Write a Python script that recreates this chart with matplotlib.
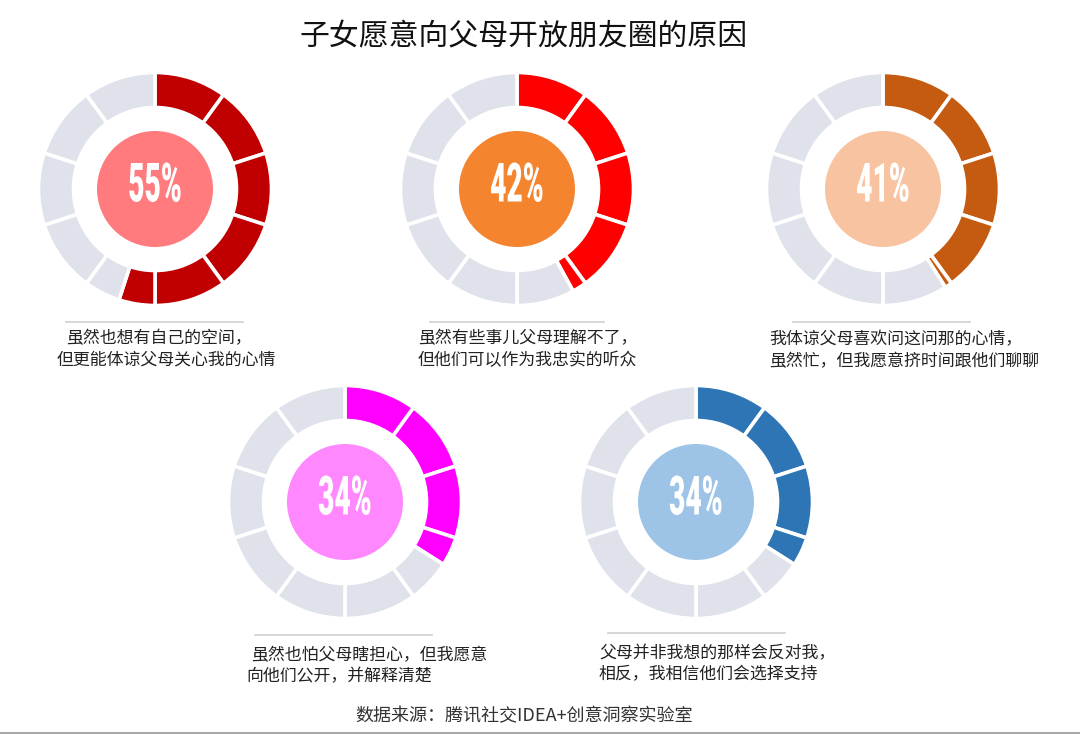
import matplotlib
matplotlib.use("Agg")
import matplotlib.pyplot as plt
from matplotlib.patches import Circle
from matplotlib.patheffects import AbstractPathEffect
from matplotlib.transforms import Affine2D

plt.rcParams['font.family'] = ['Noto Sans CJK SC', 'DejaVu Sans']

# ---- data ----
title = "子女愿意向父母开放朋友圈的原因"
source = "数据来源：腾讯社交IDEA+创意洞察实验室"
values = [55, 42, 41, 34, 34]
labels = ["55%", "42%", "41%", "34%", "34%"]
captions = [
    ["虽然也想有自己的空间，", "但更能体谅父母关心我的心情"],
    ["虽然有些事儿父母理解不了，", "但他们可以作为我忠实的听众"],
    ["我体谅父母喜欢问这问那的心情，", "虽然忙，但我愿意挤时间跟他们聊聊"],
    ["虽然也怕父母瞎担心，但我愿意", "向他们公开，并解释清楚"],
    ["父母并非我想的那样会反对我，", "相反，我相信他们会选择支持"],
]
n_segments = 10

# ---- style / layout ----
ring_colors = ["#C00000", "#FF0000", "#C55A11", "#FF00FF", "#2E75B6"]
inner_colors = ["#FF7B7D", "#F5842F", "#F8C3A0", "#FF88FF", "#9DC3E6"]
gray = "#DFE2EA"
centers = [(155, 189), (517, 189), (883, 189), (345, 502), (696, 502)]
line_spans = [(66, 243, 322), (430, 604, 322), (793, 970, 322),
              (255, 432, 635), (608, 785, 633)]
cap_pos = [[(66, 338), (57, 360)], [(418, 338), (418, 360)],
           [(769, 339), (769, 361)], [(251, 655), (246, 676)],
           [(599, 653), (599, 674)]]


class CondenseX(AbstractPathEffect):
    """Squeeze glyph outlines horizontally about their centre (text stays text)."""
    def __init__(self, sx):
        super().__init__()
        self.sx = sx

    def draw_path(self, renderer, gc, tpath, affine, rgbFace=None):
        ext = tpath.get_extents(affine)
        cx = 0.5 * (ext.x0 + ext.x1)
        t = affine + Affine2D().translate(-cx, 0).scale(self.sx, 1).translate(cx, 0)
        renderer.draw_path(gc, tpath, t, rgbFace)


W, H = 1080, 734
fig = plt.figure(figsize=(W / 100, H / 100), dpi=100)
fig.patch.set_facecolor("white")

bg = fig.add_axes([0, 0, 1, 1])
bg.set_xlim(0, W)
bg.set_ylim(H, 0)
bg.axis("off")

bg.text(524, 37, title, ha="center", va="center", fontsize=21.5, color="#111111")
bg.text(524, 716, source, ha="center", va="center", fontsize=13, color="#333333")
bg.plot([0, W], [732.5, 732.5], color="#A8A8A8", lw=1.5)

S = 250
for i, (v, (cx, cy)) in enumerate(zip(values, centers)):
    ax = fig.add_axes([(cx - S / 2) / W, 1 - (cy + S / 2) / H, S / W, S / H])
    ax.set_aspect("equal")
    ax.axis("off")
    seg = 100 / n_segments
    sizes, cols = [], []
    full = int(v // seg)
    part = v - full * seg
    for k in range(n_segments):
        if k < full:
            sizes.append(seg); cols.append(ring_colors[i])
        elif k == full and part > 0:
            sizes.append(part); cols.append(ring_colors[i])
            sizes.append(seg - part); cols.append(gray)
        else:
            sizes.append(seg); cols.append(gray)
    ax.pie(sizes, colors=cols, startangle=90, counterclock=False, radius=116.5,
           wedgeprops=dict(width=35, edgecolor="white", linewidth=2.6),
           frame=False)
    ax.set_xlim(-S / 2, S / 2)
    ax.set_ylim(-S / 2, S / 2)
    ax.add_patch(Circle((0, 0), 58, color=inner_colors[i], lw=0))
    ax.text(0, 2, labels[i], ha="center", va="center", color="white",
            fontsize=39, fontweight="black", family=["Roboto", "DejaVu Sans"],
            path_effects=[CondenseX(0.52)])

    x0, x1, ly = line_spans[i]
    bg.plot([x0, x1], [ly, ly], color="#D0D0D0", lw=1.2)
    for (tx, ty), t in zip(cap_pos[i], captions[i]):
        bg.text(tx, ty, t, ha="left", va="center", fontsize=12.2, color="#222222")

fig.savefig("out.png", dpi=100, facecolor="white")
